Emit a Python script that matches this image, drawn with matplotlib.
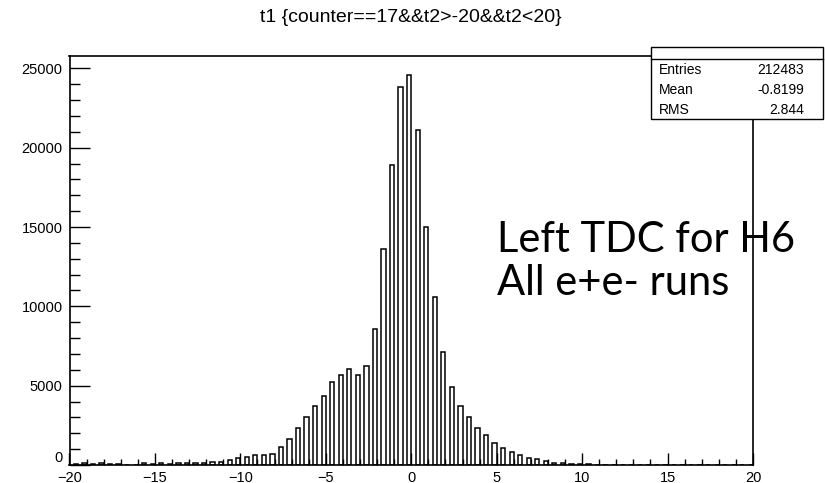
import numpy as np
import matplotlib
matplotlib.use("Agg")
import matplotlib.pyplot as plt
from matplotlib.patches import Rectangle
from matplotlib.ticker import MultipleLocator, FuncFormatter

# ---- data ----
bin_edges_low = -20.0
bin_width = 0.5
counts = [
    # -20 .. -11 (18 bins)
    70, 110, 60, 120, 40, 80, 20, 30, 110, 80, 120, 90, 130, 110, 150, 120, 170, 210,
    # -11 .. -1.5
    320, 420, 530, 630, 630, 700, 1110, 1620, 2310, 3050, 3740, 4350,
    5260, 5680, 6060, 5680, 6270, 8580, 13630,
    # -1.5 .. 1.5
    18900, 23800, 24550, 21100, 15000, 10600,
    # 1.5 .. 8.5
    7150, 4940, 3720, 3050, 2310, 1890, 1410, 1090, 840, 630, 420, 360, 250, 150,
    # 8.5 .. 20 (23 bins)
    110, 80, 60, 40, 20, 10, 0, 0, 0, 0, 0, 0, 0, 0, 0, 0, 0, 0, 0, 0, 0, 0, 0,
]
title = "t1 {counter==17&&t2>-20&&t2<20}"
stat_names = ["Entries", "Mean", "RMS"]
stat_values = ["212483", "-0.8199", "2.844"]
note_lines = ["Left TDC for H6", "All e+e- runs"]

W, H = 825, 483
fig = plt.figure(figsize=(W / 100, H / 100), dpi=100)
fig.patch.set_facecolor("white")

ax_l, ax_r, ax_t, ax_b = 69.5, 753, 56, 465
ax = fig.add_axes([ax_l / W, (H - ax_b) / H, (ax_r - ax_l) / W, (ax_b - ax_t) / H])

lows = bin_edges_low + bin_width * np.arange(len(counts))
ax.bar(lows + 0.5 * bin_width, counts, width=0.5 * bin_width, align="edge",
       facecolor="white", edgecolor="black", linewidth=1.1)

ymax = max(counts) * 1.05
ax.set_xlim(-20, 20)
ax.set_ylim(0, ymax)

ax.xaxis.set_major_locator(MultipleLocator(5))
ax.xaxis.set_minor_locator(MultipleLocator(1))
ax.yaxis.set_major_locator(MultipleLocator(5000))
ax.yaxis.set_minor_locator(MultipleLocator(1000))
# the y "0" label is placed by hand (slightly lifted, as in the reference)
ax.yaxis.set_major_formatter(FuncFormatter(lambda v, p: "" if v == 0 else f"{v:.0f}"))

font = "Liberation Sans"
ax.tick_params(axis="x", which="major", direction="in", length=8.6, width=1.0,
               labelsize=10.5, pad=4, top=False, labelfontfamily=font)
ax.tick_params(axis="x", which="minor", direction="in", length=4.3, width=1.0, top=False)
ax.tick_params(axis="y", which="major", direction="in", length=14.4, width=1.0,
               labelsize=10.5, pad=5, right=False, labelfontfamily=font)
ax.tick_params(axis="y", which="minor", direction="in", length=7.2, width=1.0, right=False)
for sp in ax.spines.values():
    sp.set_linewidth(1.2)

fig.text(63 / W, 1 - 458 / H, "0", ha="right", va="center", fontsize=10.5, family=font)

fig.text(411 / W, 1 - 18 / H, title, ha="center", va="center",
         fontsize=14, family=font)

# stats box
bx0, bx1, by0, bsep, by1 = 651, 823, 47, 59, 119
fig.add_artist(Rectangle((bx0 / W, 1 - by1 / H), (bx1 - bx0) / W, (by1 - by0) / H,
                         transform=fig.transFigure, facecolor="white",
                         edgecolor="black", linewidth=1.0))
fig.add_artist(plt.Line2D([bx0 / W, bx1 / W], [1 - bsep / H, 1 - bsep / H],
                          transform=fig.transFigure, color="black", linewidth=1.0))
for i, (n, v) in enumerate(zip(stat_names, stat_values)):
    yy = 1 - (69.5 + 20.5 * i) / H
    fig.text(659 / W, yy, n, ha="left", va="center", fontsize=10, family=font)
    fig.text(804 / W, yy, v, ha="right", va="center", fontsize=10, family=font)

for i, line in enumerate(note_lines):
    fig.text(497 / W, 1 - (240 + 43 * i) / H, line, ha="left", va="center",
             fontsize=30, family=["Lato", "DejaVu Sans"])

fig.savefig("out.png", dpi=100)
